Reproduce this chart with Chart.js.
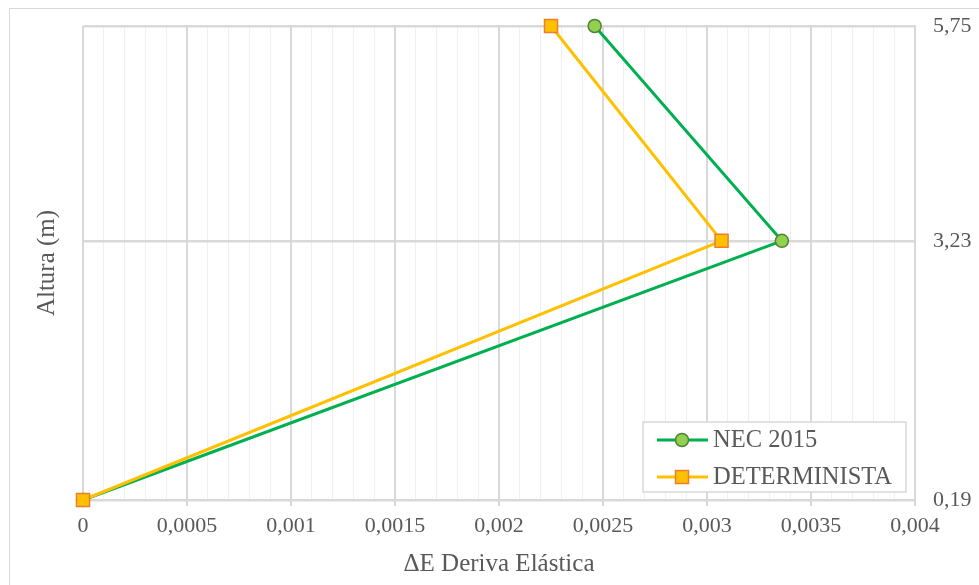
<!DOCTYPE html>
<html>
<head>
<meta charset="utf-8">
<script src="https://cdn.jsdelivr.net/npm/chart.js@4.4.1/dist/chart.umd.min.js"></script>
<style>
    body { margin: 0; background: #ffffff; }
    #frame { position: absolute; left: 9px; top: 8px; width: 1000px; height: 600px; border: 1px solid #d9d9d9; box-sizing: border-box; }
    #wrap { position: absolute; left: 0; top: 0; width: 979px; height: 585px; }
</style>
</head>
<body>
<div id="frame"></div>
<div id="wrap"><canvas id="chart" width="979" height="585"></canvas></div>
<script>
// alturas de piso (m) y derivas elasticas
const heights = [0.19, 3.23, 5.75];
const necDrift = [0, 0.00336, 0.00246];
const detDrift = [0, 0.00307, 0.00225];
const seriesNames = ['NEC 2015', 'DETERMINISTA'];
const xMin = 0, xMax = 0.004, xMinorStep = 0.0001;

const FONT = "'Liberation Serif', 'Times New Roman', serif";
const TEXT = '#595959';

const isMajor = v => Math.round(v * 10000) % 5 === 0;
const fmt = v => Number(v.toFixed(4)).toString().replace('.', ',');
const toPoints = (xs) => xs.map((x, i) => ({ x: x, y: heights[i] }));

// leyenda con linea + marcador, como en Excel
const legendBox = {
    id: 'legendBox',
    afterDraw(chart) {
        const ctx = chart.ctx;
        const a = chart.chartArea;
        const w = 263, h = 70;
        const x0 = a.right - 9 - w, y0 = a.bottom - 8 - h;
        ctx.save();
        ctx.fillStyle = '#ffffff';
        ctx.fillRect(x0, y0, w, h);
        ctx.strokeStyle = '#d9d9d9';
        ctx.lineWidth = 1.5;
        ctx.strokeRect(x0, y0, w, h);
        chart.data.datasets.forEach((ds, i) => {
            const y = y0 + 18 + i * 37;
            ctx.strokeStyle = ds.borderColor;
            ctx.lineWidth = 3;
            ctx.beginPath();
            ctx.moveTo(x0 + 14, y);
            ctx.lineTo(x0 + 65, y);
            ctx.stroke();
            ctx.fillStyle = ds.pointBackgroundColor;
            ctx.strokeStyle = ds.pointBorderColor;
            ctx.lineWidth = 1.5;
            const cx = x0 + 39;
            if (ds.pointStyle === 'rect') {
                ctx.fillRect(cx - 6.5, y - 6.5, 13, 13);
                ctx.strokeRect(cx - 6.5, y - 6.5, 13, 13);
            } else {
                ctx.beginPath();
                ctx.arc(cx, y, 6.5, 0, Math.PI * 2);
                ctx.fill();
                ctx.stroke();
            }
            ctx.fillStyle = TEXT;
            ctx.font = '24.5px ' + FONT;
            ctx.textBaseline = 'middle';
            ctx.textAlign = 'left';
            ctx.fillText(ds.label, x0 + 70, y + 1);
        });
        ctx.restore();
    }
};

const noPad = s => { s.paddingTop = 0; s.paddingBottom = 0; s.paddingLeft = 0; s.paddingRight = 0; };

const TheChart = new Chart(document.getElementById('chart'), {
    type: 'scatter',
    data: {
        datasets: [{
            label: seriesNames[0],
            data: toPoints(necDrift),
            showLine: true,
            borderColor: '#00B050',
            borderWidth: 3,
            pointStyle: 'circle',
            pointRadius: 6.5,
            pointHoverRadius: 6.5,
            pointBackgroundColor: '#92D050',
            pointBorderColor: '#548235',
            pointBorderWidth: 1.5,
            clip: false,
            order: 1
        }, {
            label: seriesNames[1],
            data: toPoints(detDrift),
            showLine: true,
            borderColor: '#FFC000',
            borderWidth: 3,
            pointStyle: 'rect',
            pointRadius: 9.2,
            pointHoverRadius: 9.2,
            pointBackgroundColor: '#FFC000',
            pointBorderColor: '#ED7D31',
            pointBorderWidth: 1.5,
            clip: false,
            order: 0
        }]
    },
    options: {
        responsive: false,
        animation: false,
        layout: { padding: { top: 26, left: 0, right: 0, bottom: 0 } },
        plugins: {
            legend: { display: false },
            tooltip: { enabled: false }
        },
        scales: {
            x: {
                type: 'linear',
                min: xMin,
                max: xMax,
                ticks: {
                    stepSize: xMinorStep,
                    autoSkip: false,
                    maxRotation: 0,
                    padding: 7,
                    color: TEXT,
                    font: { family: FONT, size: 22 },
                    callback: v => isMajor(v) ? fmt(v) : ''
                },
                grid: {
                    color: c => isMajor(c.tick.value) ? '#d9d9d9' : '#f0f0f0',
                    lineWidth: c => isMajor(c.tick.value) ? 2 : 1,
                    tickColor: c => isMajor(c.tick.value) ? '#d9d9d9' : 'rgba(0,0,0,0)',
                    tickLength: 6
                },
                border: { display: false },
                title: {
                    display: true,
                    text: '\u0394E Deriva El\u00e1stica',
                    color: TEXT,
                    font: { family: FONT, size: 25 },
                    padding: { top: 0, bottom: 6 }
                },
                afterFit: s => { s.height = 85; noPad(s); }
            },
            y: {
                type: 'linear',
                position: 'right',
                min: heights[0],
                max: heights[heights.length - 1],
                afterBuildTicks: s => { s.ticks = heights.map(v => ({ value: v })); },
                ticks: {
                    padding: 18,
                    color: TEXT,
                    font: { family: FONT, size: 22 },
                    callback: v => v.toFixed(2).replace('.', ',')
                },
                grid: { color: '#d9d9d9', lineWidth: 2.5, drawTicks: false },
                border: { display: true, color: '#d9d9d9', width: 2 },
                afterFit: s => { s.width = 64; noPad(s); }
            },
            yLeft: {
                type: 'linear',
                axis: 'y',
                position: 'left',
                ticks: { display: false },
                grid: { display: false },
                border: { display: false },
                title: {
                    display: true,
                    text: 'Altura (m)',
                    color: TEXT,
                    font: { family: FONT, size: 25 },
                    padding: { top: 32, bottom: 0 }
                },
                afterFit: s => { s.width = 83; noPad(s); }
            }
        }
    },
    plugins: [legendBox]
});
</script>
</body>
</html>
